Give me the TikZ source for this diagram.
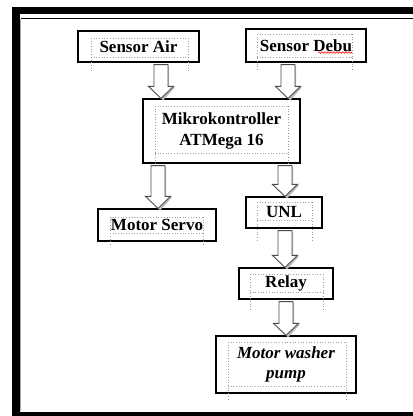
\documentclass[tikz,border=0pt]{standalone}
\usepackage{fontspec}
\setmainfont{Liberation Serif}
\usetikzlibrary{calc,decorations.pathmorphing}
\tikzset{
  blockbox/.style={draw=black, line width=1.2bp, fill=white, inner sep=0pt, align=center,
    font=\fontsize{17bp}{21bp}\selectfont\bfseries},
  blkshadow/.style={fill=gray!55, draw=none},
  blkarrow/.style={fill=white, draw=gray!60!black, line width=0.9bp, line join=miter},
  artefact/.style={draw=gray!75, dotted, line width=0.7bp},
}
\newcommand\blkarr[2]{%
  \fill[blkshadow] let \p1=(#1), \p2=(#2) in
    (\x1-4bp,\y1-3bp) -- (\x1-4bp,\y2+11bp) -- (\x1-10bp,\y2+11bp) -- (\x1+2bp,\y2-2bp)
    -- (\x1+14bp,\y2+11bp) -- (\x1+8bp,\y2+11bp) -- (\x1+8bp,\y1-3bp) -- cycle;
  \draw[blkarrow] let \p1=(#1), \p2=(#2) in
    (\x1-7bp,\y1-2bp) -- (\x1-7bp,\y2+12bp) -- (\x1-12.5bp,\y2+12bp) -- (\x1,\y2)
    -- (\x1+12.5bp,\y2+12bp) -- (\x1+7bp,\y2+12bp) -- (\x1+7bp,\y1-2bp) -- cycle;
}
\newcommand\artbox[5]{%
  \draw[artefact] (#1,#2) -- (#3,#2);
  \draw[artefact] (#1,#4) -- (#3,#4);
  \draw[artefact] (#1,#2) -- (#1,#5);
  \draw[artefact] (#3,#2) -- (#3,#5);
}
\begin{document}
\begin{tikzpicture}[x=1bp,y=-1bp]
\useasboundingbox (0,0) rectangle (413,416);
% frame
\fill[black] (12,7) rectangle (413,14);
\fill[black] (12,7) rectangle (19.5,416);
\fill[black] (12,412) rectangle (413,416);
\draw[black, line width=1.2bp] (20.5,18.5) -- (413,18.5);
\draw[gray!70, line width=0.8bp] (20.5,18.5) -- (20.5,411);

% nodes
\node[blockbox, minimum width=121bp, minimum height=31bp] (sair) at (138.5,46.5) {Sensor Air};
\node[blockbox, minimum width=120bp, minimum height=33bp] (sdebu) at (306,45.5) {Sensor Debu};
\node[blockbox, minimum width=157bp, minimum height=64bp] (mikro) at (221.5,131) {Mikrokontroller\\ATMega 16};
\node[blockbox, minimum width=118bp, minimum height=32bp] (servo) at (157,225) {Motor Servo};
\node[blockbox, minimum width=76bp, minimum height=31bp] (unl) at (284,212.5) {UNL};
\node[blockbox, minimum width=94bp, minimum height=31bp] (relay) at (286,283.5) {Relay};
\node[blockbox, minimum width=140bp, minimum height=57bp, font=\fontsize{17bp}{20bp}\selectfont\bfseries\itshape] (washer) at (286,364.5) {Motor washer\\pump};

% word text-box artefacts
\artbox{91}{38}{188}{57}{72}
\artbox{257}{34}{352}{57}{70}
\artbox{155}{106}{288}{153}{167}
\artbox{110}{217}{203}{233}{245}
\artbox{257}{202}{312}{220}{240}
\artbox{250}{274}{323}{292}{310}
\artbox{228}{342}{346}{386}{400}
\draw[red, line width=0.6bp, decorate, decoration={snake, amplitude=0.8bp, segment length=3bp}] (318,52.5) -- (352,52.5);

% arrow columns
\coordinate (c1) at (161,0);
\coordinate (c2) at (288,0);
\coordinate (c3) at (158,0);
\coordinate (c4) at (285,0);
\coordinate (c5) at (286,0);

\blkarr{sair.south -| c1}{mikro.north -| c1}
\blkarr{sdebu.south -| c2}{mikro.north -| c2}
\blkarr{mikro.south -| c3}{servo.north -| c3}
\blkarr{mikro.south -| c4}{unl.north -| c4}
\blkarr{unl.south -| c4}{relay.north -| c4}
\blkarr{relay.south -| c5}{washer.north -| c5}
\end{tikzpicture}
\end{document}
